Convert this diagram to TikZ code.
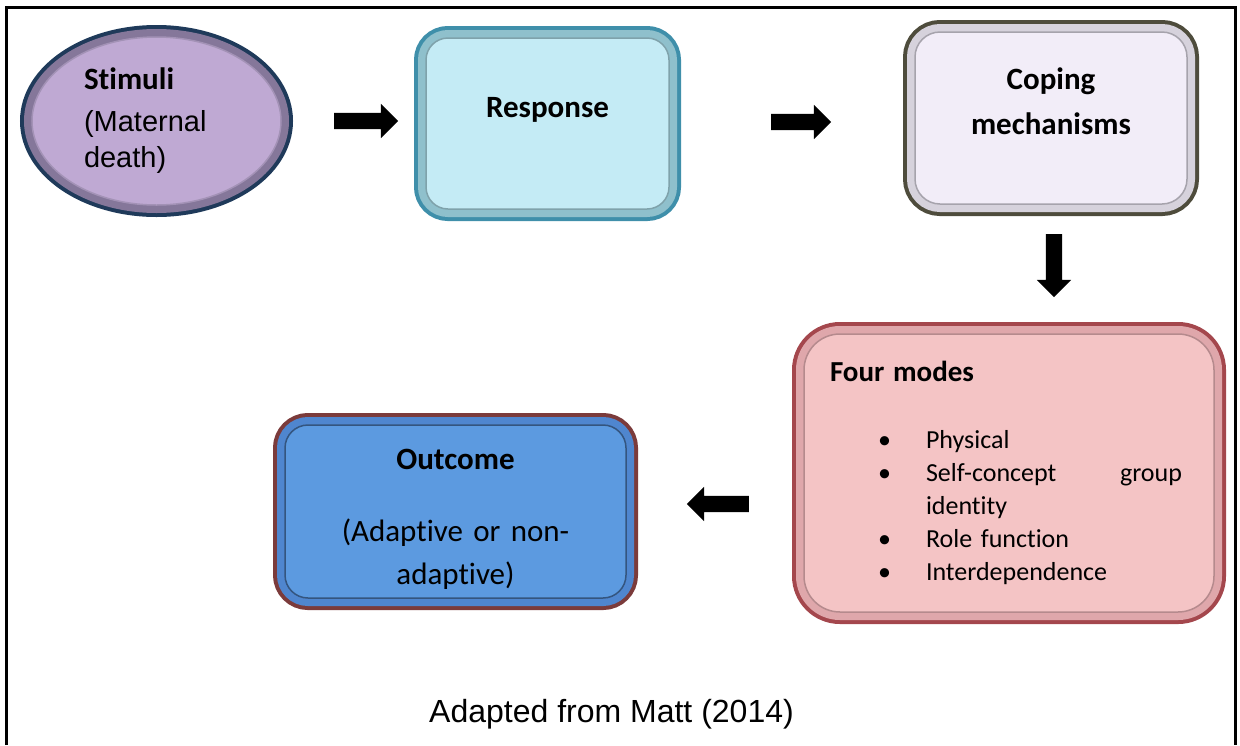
\documentclass[tikz,border=0pt]{standalone}
\usepackage{fontspec}
\setmainfont[Ligatures=NoCommon]{Carlito}
\newfontfamily\arialfont{Liberation Sans}
\usetikzlibrary{shapes.geometric,shapes.arrows}

\definecolor{StimBorder}{HTML}{1F3A5A}
\definecolor{StimRing}{HTML}{85779A}
\definecolor{StimFill}{HTML}{BFA9D3}
\definecolor{StimEdge}{HTML}{A392B6}
\definecolor{RespBorder}{HTML}{3F8FAA}
\definecolor{RespRing}{HTML}{8FC0CC}
\definecolor{RespFill}{HTML}{C4EBF5}
\definecolor{RespEdge}{HTML}{7FA2AB}
\definecolor{CopeBorder}{HTML}{4E4C3C}
\definecolor{CopeRing}{HTML}{D6D2DC}
\definecolor{CopeFill}{HTML}{F2EDF8}
\definecolor{CopeEdge}{HTML}{A6A3AC}
\definecolor{ModeBorder}{HTML}{A4474D}
\definecolor{ModeRing}{HTML}{DFA7AB}
\definecolor{ModeFill}{HTML}{F4C4C5}
\definecolor{ModeEdge}{HTML}{B58A8D}
\definecolor{OutBorder}{HTML}{7B3B3B}
\definecolor{OutRing}{HTML}{4F86CF}
\definecolor{OutFill}{HTML}{5C9AE0}
\definecolor{OutEdge}{HTML}{34557F}

\newcommand\vpad[2]{\vrule width 0pt height #1 depth #2\relax}
\newcommand\modebullet{\makebox[48pt][l]{\textbullet}}

\begin{document}
\begin{tikzpicture}[x=1pt,y=-1pt,
    panel/.style n args={4}{preaction={draw=#1,line width=24pt},
      preaction={draw=#2,line width=16pt}, fill=#3, draw=#4, line width=1.5pt},
    blockarrow/.style={single arrow, fill=black, inner xsep=0pt, inner ysep=8pt,
      single arrow head extend=9pt, minimum height=#1},
    title/.style={font=\fontsize{31}{45}\selectfont\bfseries}]

        \useasboundingbox (0,0) rectangle (1240,745);

        % frame, open at the bottom
        \draw[line width=2.2pt] (6.5,745) |- (1235.5,7.5) -- (1235.5,745);

        \node (stim) [ellipse, panel={StimBorder}{StimRing}{StimFill}{StimEdge},
          minimum width=249pt, minimum height=168pt, inner sep=0pt,
          text width=145pt, align=left,
          font=\arialfont\fontsize{29}{36}\selectfont] at (156.5,121)
          {{\rmfamily\bfseries\fontsize{31}{36}\selectfont Stimuli}\\[6pt](Maternal\\death)};

        \node (resp) [panel={RespBorder}{RespRing}{RespFill}{RespEdge},
          rounded corners=22pt, minimum width=243pt, minimum height=171pt,
          title] at (547.5,123.5) {Response\vpad{0pt}{33pt}};

        \node (cope) [panel={CopeBorder}{CopeRing}{CopeFill}{CopeEdge},
          rounded corners=25pt, minimum width=272pt, minimum height=172pt,
          align=center, title] at (1051,118) {Coping\\mechanisms\vpad{0pt}{34pt}};

        \node (modes) [panel={ModeBorder}{ModeRing}{ModeFill}{ModeEdge},
          rounded corners=36pt, minimum width=410pt, minimum height=278pt,
          text width=358pt, align=left,
          font=\fontsize{26}{33}\selectfont] at (1009,473)
          {{\fontsize{29}{33}\selectfont\bfseries Four modes}\\[34pt]
           \hspace*{48pt}\modebullet Physical\\
           \hspace*{48pt}\modebullet\makebox[256pt][l]{Self-concept\hfill group}\\
           \hspace*{96pt}identity\\
           \hspace*{48pt}\modebullet Role function\\
           \hspace*{48pt}\modebullet Interdependence};

        \node (out) [panel={OutBorder}{OutRing}{OutFill}{OutEdge},
          rounded corners=23pt, minimum width=341pt, minimum height=173pt,
          text width=320pt, align=center,
          font=\fontsize{31}{43}\selectfont] at (455.5,511.5)
          {\textbf{Outcome}\vpad{35pt}{0pt}\\[29pt](Adaptive or non-\\adaptive)};

        % block arrows between the stages
        \node (a1) [blockarrow=64pt] at (362,121) {};
        \node (a2) [blockarrow=60pt] at (797,122) {};
        \node (a3) [blockarrow=63pt, rotate=-90] at (1054,261.5) {};
        \node (a4) [blockarrow=62pt, rotate=180] at (722,504) {};

        \node (src) [font=\arialfont\fontsize{32}{38}\selectfont] at (611.5,714)
          {Adapted from Matt (2014)};
    \end{tikzpicture}
\end{document}
